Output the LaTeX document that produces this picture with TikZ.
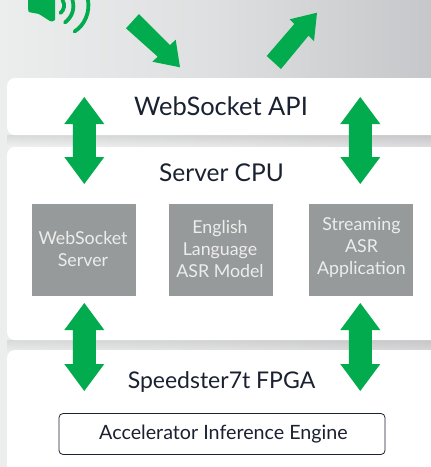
\documentclass[tikz,border=0pt]{standalone}
\usepackage{fontspec}
\setmainfont{Lato}
\definecolor{grn}{HTML}{02AB4D}
\definecolor{ink}{HTML}{1A2130}
\definecolor{gbox}{HTML}{979A9A}
\definecolor{gtxt}{HTML}{ECEDED}
\definecolor{bgL}{HTML}{ECEEEE}
\definecolor{bgM}{HTML}{DEDFE0}
\definecolor{bgR}{HTML}{C6C7CA}
\tikzset{
  panel/.style={fill=white,rounded corners=8pt,draw=none},
  title/.style={text=ink,inner sep=0pt,anchor=center},
  gnode/.style={text=gtxt,inner sep=0pt,align=center,
     font=\fontsize{17.8}{22}\selectfont},
  engine/.style={fill=white,draw=ink,line width=0.8pt,rounded corners=4pt,minimum width=326pt,minimum height=41pt,inner sep=0pt,
     text=ink,font=\fontsize{19.7}{22}\selectfont},
  block/.style={fill=grn,draw=none},
  wave/.style={draw=grn,line width=3.8pt,line cap=round}
}
\newcommand{\dblarrow}[3]{% x, ytop, ybot
  \fill[block] (#1,#2) -- (#1+20,#2+27) -- (#1+11.5,#2+27) -- (#1+11.5,#3-27) -- (#1+20,#3-27)
     -- (#1,#3) -- (#1-20,#3-27) -- (#1-11.5,#3-27) -- (#1-11.5,#2+27) -- (#1-20,#2+27) -- cycle;}
\begin{document}
\begin{tikzpicture}[x=1pt,y=-1pt]
\useasboundingbox (0,0) rectangle (431,467);
\begin{scope}
\clip (0,0) rectangle (431,467);
\shade[left color=bgL,right color=bgR,middle color=bgM] (0,0) rectangle (431,467);
% soft shadows in the gaps
\shade[top color=black!22,bottom color=black!4,opacity=0.5] (7,135) rectangle (431,147);
\shade[top color=black!22,bottom color=black!10,opacity=0.5] (7,340) rectangle (431,350);
% panels
\path[panel] (7,78) rectangle (445,135);
\path[panel] (7,147) rectangle (445,340);
\path[panel] (7,350) rectangle (445,490);
% titles
\node[title,font=\fontsize{25.5}{28}\selectfont] (api) at (221,106.5) {WebSocket API};
\node[title,font=\fontsize{24.5}{28}\selectfont] (cpu) at (221.5,173) {Server CPU};
\node[title,font=\fontsize{23}{28}\selectfont] (fpga) at (221.5,382) {Speedster7t FPGA};
% grey boxes
\fill[gbox] (32,204) rectangle (136,296);
\fill[gbox] (169,204) rectangle (273,296);
\fill[gbox] (309,204) rectangle (413,296);
\node[gnode] (ws) at (83,249.5) {WebSocket\\Server};
\node[gnode] (model) at (220,249) {English\\Language\\ASR Model};
\node[gnode] (asrt) at (361.5,248) {Streaming\\ASR\\Application};
\node[engine] (eng) at (222,434) {\hspace{3pt}Accelerator Inference Engine};
% double arrows
\dblarrow{84.3}{97}{184}
\dblarrow{360.3}{97}{184}
\dblarrow{84.3}{303}{391}
\dblarrow{360.3}{303}{391}
% diagonal arrows
\fill[block] (126,28.3) -- (139,14) -- (170,45) -- (175.7,39.7) -- (180,67.3) -- (152.3,61.7) -- (157.7,56.7) -- cycle;
\fill[block] (266.7,56) -- (281,69) -- (308.5,35.7) -- (314,41) -- (317,12.7) -- (289.7,19.3) -- (294.3,24) -- cycle;
% speaker
\fill[block,rounded corners=1pt] (28,-2) -- (28.3,12) -- (39,14) -- (51,21.7) -- (55,20.5) -- (55,-2) -- cycle;
\draw[wave] (62.5,0) .. controls (65.5,5) and (64,10) .. (60.5,13);
\draw[wave] (72.5,0) .. controls (75,9) and (72,17) .. (65,22.5);
\draw[wave] (88,0) .. controls (90,12) and (85,25) .. (74.5,31.5);
\end{scope}
\end{tikzpicture}
\end{document}
